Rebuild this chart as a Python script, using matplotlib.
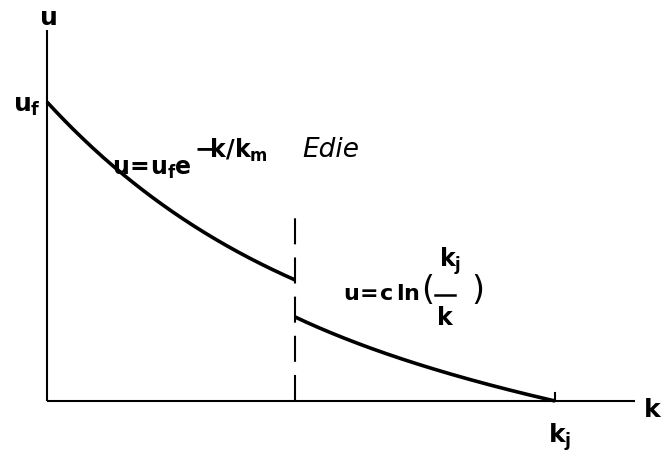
import numpy as np
import matplotlib.pyplot as plt

plt.rcParams['mathtext.fontset'] = 'custom'
plt.rcParams['mathtext.rm'] = 'DejaVu Sans:bold'
plt.rcParams['mathtext.it'] = 'DejaVu Sans:bold'
plt.rcParams['mathtext.bf'] = 'DejaVu Sans:bold'

# model parameters (k_j and u_f normalised to 1)
u_f = 1.0
k_j = 1.0
k_m = 0.54
c = 0.392
k_break = 0.488       # where the two regimes meet
dash_top = 0.615      # height of the dashed separator

axis_ends = [1.157, 1.241]   # x-axis length, y-axis length

fig = plt.figure(figsize=(6.7, 4.61), dpi=100)
ax = fig.add_axes([0, 0, 1, 1])
ax.set_xlim(-0.0925, 1.2264)
ax.set_ylim(-0.2007, 1.3411)
ax.axis('off')

# axes
ax.plot([0, axis_ends[0]], [0, 0], color='k', lw=1.5, solid_capstyle='butt')
ax.plot([0, 0], [0, axis_ends[1]], color='k', lw=1.5, solid_capstyle='butt')
ax.plot([k_j, k_j], [0, 0.027], color='k', lw=1.5)

# free-flow regime: exponential
k1 = np.linspace(0, k_break, 200)
ax.plot(k1, u_f * np.exp(-k1 / k_m), color='k', lw=2.6, solid_capstyle='butt')

# congested regime: Greenberg log
k2 = np.linspace(k_break, k_j, 200)
ax.plot(k2, c * np.log(k_j / k2), color='k', lw=2.6, solid_capstyle='butt')

# separator
ax.plot([k_break, k_break], [0, dash_top], color='k', lw=1.5,
        linestyle=(0, (12.5, 6.3)))

fs = 18
ax.text(0.002, 1.281, r'$u$', fontsize=fs, ha='center', va='center')
ax.text(1.173, -0.054, r'$k$', fontsize=fs, ha='left', va='baseline')
ax.text(-0.012, 0.967, r'$u_f$', fontsize=fs, ha='right', va='baseline')
ax.text(0.986, -0.14, r'$k_j$', fontsize=fs, ha='left', va='baseline')
ax.text(0.502, 0.816, 'Edie', fontsize=19, fontstyle='italic', ha='left', va='baseline')


def right_edge(t):
    fig.canvas.draw()
    bb = t.get_window_extent().transformed(ax.transData.inverted())
    return bb.x1


# u = u_f e^(-k/k_m), exponent kept near full size
base = ax.text(0.128, 0.756, r'$u\!=\!u_f e$', fontsize=17, ha='left', va='baseline')
ax.text(right_edge(base) + 0.004, 0.812, r'$-\!k/k_m$', fontsize=17,
        ha='left', va='baseline')

# u = c ln(k_j / k), fraction built from pieces at full size
lhs = ax.text(0.583, 0.338, r'$u\!=\!c\,ln$', fontsize=16, ha='left', va='baseline')
lp = ax.text(right_edge(lhs) + 0.002, 0.371, '(', fontsize=24, fontweight='medium',
             ha='left', va='center')
x_bar = right_edge(lp) + 0.002
w_bar = 0.04
ax.plot([x_bar, x_bar + w_bar], [0.355, 0.355], color='k', lw=1.8)
ax.text(x_bar + 0.008, 0.448, r'$k_j$', fontsize=17, ha='left', va='baseline')
ax.text(x_bar + w_bar / 2, 0.254, r'$k$', fontsize=17, ha='center', va='baseline')
ax.text(x_bar + w_bar + 0.032, 0.371, ')', fontsize=24, fontweight='medium',
        ha='left', va='center')

fig.savefig('out.png', dpi=100)
